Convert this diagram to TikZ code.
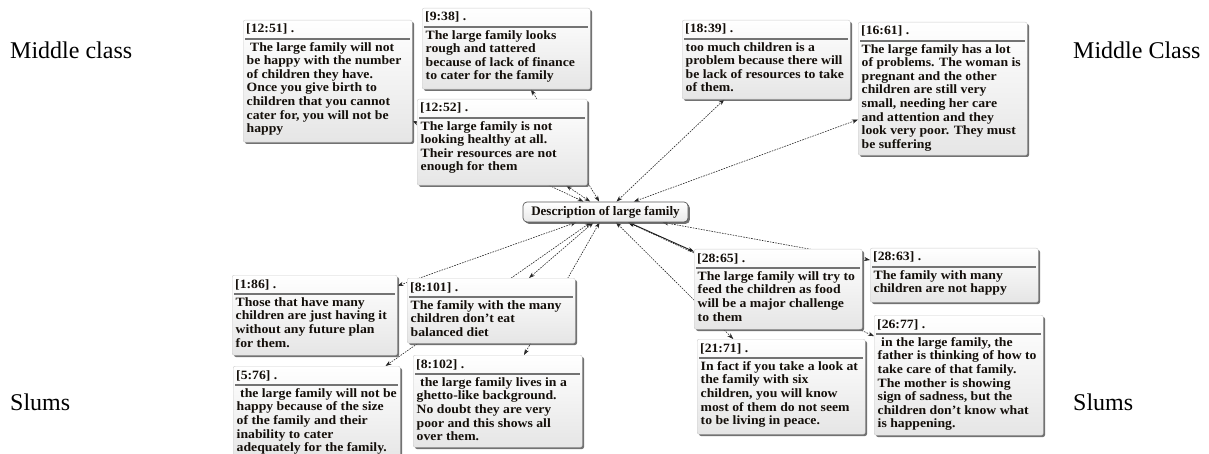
\documentclass[tikz,border=0pt]{standalone}
\usepackage{fontspec}
\setmainfont{Liberation Serif}
\newfontfamily\qfont{Liberation Serif}[FakeStretch=1.08]
\usetikzlibrary{arrows.meta,shadows}
\pgfdeclarelayer{background}
\pgfsetlayers{background,main}
\definecolor{txt}{RGB}{20,15,10}
\tikzset{
 qbox/.style={draw=gray!40, line width=0.4pt, rounded corners=2pt, top color=white, bottom color=gray!20,
   drop shadow={shadow xshift=1.8pt, shadow yshift=-1.8pt, fill=black!65, opacity=0.85}, inner sep=0pt, anchor=north west},
 hdr/.style={font=\qfont\bfseries\fontsize{12.7}{13.6}\selectfont, text=txt, inner sep=0pt, anchor=base west},
 body/.style={font=\qfont\bfseries\fontsize{12.7}{13.6}\selectfont, text=txt, inner sep=0pt, anchor=north west, align=left},
 hline/.style={line width=1.1pt, draw=black!55},
 cbox/.style={draw=black!65, line width=0.7pt, rounded corners=4pt, top color=white, bottom color=gray!18,
   drop shadow={shadow xshift=1.8pt, shadow yshift=-1.8pt, fill=black!65, opacity=0.85},
   minimum width=165pt, minimum height=20pt, inner sep=0pt, font=\bfseries\fontsize{13}{13}\selectfont, text=txt},
 link/.style={{Stealth[length=6pt,width=4.2pt]}-{Stealth[length=6pt,width=4.2pt]}, dash pattern=on 1.6pt off 1.1pt, line width=0.6pt, draw=black!85},
 linkb/.style={{Stealth[length=6pt,width=4.2pt]}-{Stealth[length=6pt,width=4.2pt]}, line width=0.9pt, draw=black!90},
 side/.style={font=\fontsize{24}{26}\selectfont, inner sep=0pt, anchor=base west},
}
% name, x, y (top left), width, height, header, body
\newcommand\qnote[7]{%
 \node[qbox, minimum width=#4pt, minimum height=#5pt] (#1) at (#2,#3) {};
 \node[hdr] at ([xshift=3pt,yshift=-13pt]#1.north west) {#6};
 \draw[hline] ([xshift=2pt,yshift=-19pt]#1.north west) -- ([xshift=-2pt,yshift=-19pt]#1.north east);
 \node[body] at ([xshift=3.5pt,yshift=-22pt]#1.north west) {\rule{0pt}{9pt}#7};
}
\begin{document}
\begin{tikzpicture}[x=1pt,y=-1pt]
\useasboundingbox (0,0) rectangle (1209,454);

\node[side] (l1) at (10,59) {Middle class};
\node[side] (l2) at (1073,59) {Middle Class};
\node[side] (l3) at (10,410) {Slums};
\node[side] (l4) at (1073,410) {Slums};

\node[cbox] (c) at (605.5,212) {Description of large family};

\qnote{q1251}{243}{20}{169}{122}{[12:51] .}{\hspace*{3.5pt}The large family will not\\be happy with the number\\of children they have.\\Once you give birth to\\children that you cannot\\cater for, you will not be\\happy}
\qnote{q938}{422}{8}{168}{81}{[9:38] .}{The large family looks\\rough and tattered\\because of lack of finance\\to cater for the family}
\qnote{q1252}{417}{99}{170}{86}{[12:52] .}{The large family is not\\looking healthy at all.\\Their resources are not\\enough for them}
\qnote{q1839}{682}{20}{168}{79}{[18:39] .}{too much children is a\\problem because there will\\be lack of resources to take\\of them.}
\qnote{q1661}{858}{22}{169}{133}{[16:61] .}{The large family has a lot\\of problems. The woman is\\pregnant and the other\\children are still very\\small, needing her care\\and attention and they\\look very poor. They must\\be suffering}
\qnote{q2865}{694}{249}{168}{80}{[28:65] .}{The large family will try to\\feed the children as food\\will be a major challenge\\to them}
\qnote{q2863}{870}{248}{168}{54}{[28:63] .}{The family with many\\children are not happy}
\qnote{q2677}{874}{315}{169}{120}{[26:77] .}{\hspace*{3.5pt}in the large family, the\\father is thinking of how to\\take care of that family.\\The mother is showing\\sign of sadness, but the\\children don’t know what\\is happening.}
\qnote{q2171}{697}{339}{168}{95}{[21:71] .}{In fact if you take a look at\\the family with six\\children, you will know\\most of them do not seem\\to be living in peace.}
\qnote{q186}{232}{275}{165}{80}{[1:86] .}{Those that have many\\children are just having it\\without any future plan\\for them.}
\qnote{q576}{233}{366}{167}{96}{[5:76] .}{\hspace*{3.5pt}the large family will not be\\happy because of the size\\of the family and their\\inability to cater\\adequately for the family.}
\qnote{q8101}{407}{278}{168}{65}{[8:101] .}{The family with the many\\children don’t eat\\balanced diet}
\qnote{q8102}{413}{355}{169}{92}{[8:102] .}{\hspace*{3.5pt}the large family lives in a\\ghetto-like background.\\No doubt they are very\\poor and this shows all\\over them.}

\begin{pgfonlayer}{background}
\draw[link] (c) -- (q1251);
\draw[link] (c) -- (q938);
\draw[link] (c) -- (q1252);
\draw[link] (c) -- (q1839);
\draw[link] (c) -- (q1661);
\draw[link] (c) -- (q2863);
\draw[linkb] (c) -- (q2865);
\draw[link] (c) -- (q2677);
\draw[link] (c) -- (q2171);
\draw[link] (c) -- (q186);
\draw[link] (c) -- (q576);
\draw[link] (c) -- (q8101);
\draw[link] (c) -- (q8102);
\end{pgfonlayer}
\end{tikzpicture}
\end{document}
